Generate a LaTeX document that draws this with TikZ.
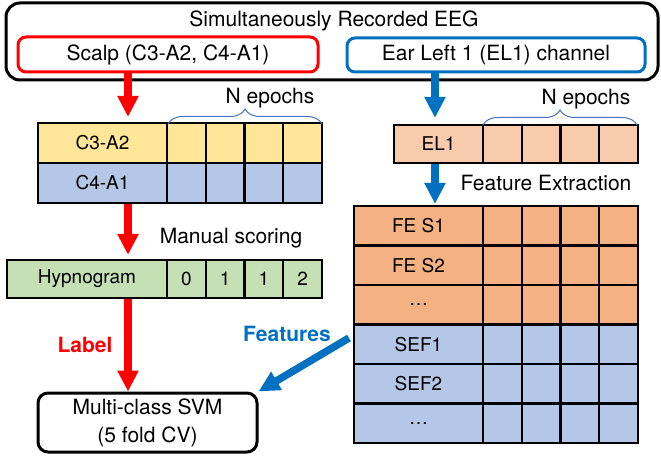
\documentclass[tikz,border=0pt]{standalone}
\usepackage{fontspec}
\setmainfont{TeX Gyre Heros}
\usetikzlibrary{arrows.meta, decorations.pathreplacing}

\definecolor{scalpRed}{HTML}{FF0000}
\definecolor{earBlue}{HTML}{0070C0}
\definecolor{braceBlue}{HTML}{4472C4}
\definecolor{c3Yellow}{HTML}{FFE699}
\definecolor{rowBlue}{HTML}{B4C7E7}
\definecolor{hypGreen}{HTML}{C5E0B4}
\definecolor{elPeach}{HTML}{F8CBAD}
\definecolor{feOrange}{HTML}{F4B183}

\begin{document}
\begin{tikzpicture}[x=1pt, y=-1pt,
  every node/.style={font=\fontsize{21}{28}\selectfont},
  roundBox/.style={draw, line width=3pt, inner sep=0pt},
  labelCell/.style={draw, line width=2.2pt, inner sep=0pt, font=\fontsize{19}{23}\selectfont},
  epochCell/.style={draw, line width=2.2pt, inner sep=0pt, minimum width=38.75pt, font=\fontsize{19}{23}\selectfont},
  redArrow/.style={draw=scalpRed, line width=7.5pt, -{Triangle[width=20pt,length=21pt]}},
  blueArrow/.style={draw=earBlue, line width=7.5pt, -{Triangle[width=20pt,length=21pt]}},
  epochBrace/.style={draw=braceBlue, line width=1pt, decorate, decoration={brace, amplitude=15pt}}]

  \useasboundingbox (0,0) rectangle (661,457);

  % recorded eeg
  \node[roundBox, rounded corners=14pt, minimum width=652pt, minimum height=77pt] (eegBox) at (332,41.5) {};
  \node[anchor=base] (eegTitle) at (334,27) {Simultaneously Recorded EEG};
  \node[roundBox, draw=scalpRed, rounded corners=8pt, minimum width=300pt, minimum height=35pt] (scalpBox) at (168,54.5) {Scalp (C3-A2, C4-A1)};
  \node[roundBox, draw=earBlue, rounded corners=8pt, minimum width=298pt, minimum height=34pt] (earBox) at (496,55) {Ear Left 1 (EL1) channel};

  % scalp channels
  \node[labelCell, fill=c3Yellow, minimum width=129pt, minimum height=40pt] (c3Label) at (102.5,143) {C3-A2};
  \node[labelCell, fill=rowBlue, minimum width=129pt, minimum height=40pt] (c4Label) at (102.5,183) {C4-A1};
  \foreach \i in {1,...,4} {
    \node[epochCell, fill=c3Yellow, minimum height=40pt] (c3Cell\i) at (147.625+38.75*\i,143) {};
    \node[epochCell, fill=rowBlue, minimum height=40pt] (c4Cell\i) at (147.625+38.75*\i,183) {};
  }
  \draw[epochBrace] (168,124) -- (322,124);
  \node[anchor=base] (scalpEpochs) at (270,104) {N epochs};

  % hypnogram
  \node[labelCell, fill=hypGreen, minimum width=160pt, minimum height=38pt] (hypLabel) at (87,279) {Hypnogram};
  \foreach \v [count=\i] in {0,1,1,2}
    \node[epochCell, fill=hypGreen, minimum height=38pt] (hypCell\i) at (147.625+38.75*\i,279) {\v};
  \node[anchor=base] (manualTxt) at (231,243) {Manual scoring};

  % ear channel
  \node[labelCell, fill=elPeach, minimum width=89pt, minimum height=38pt] (el1Label) at (438.5,144) {EL1};
  \foreach \i in {1,...,4}
    \node[epochCell, fill=elPeach, minimum height=38pt] (el1Cell\i) at (463.625+38.75*\i,144) {};
  \draw[epochBrace] (483,125) -- (637,125);
  \node[anchor=base] (earEpochs) at (586,105) {N epochs};
  \node[anchor=base] (featExtTxt) at (546,191) {Feature Extraction};

  % feature table
  \foreach \name/\txt/\col [count=\r] in {feS1/FE S1/feOrange, feS2/FE S2/feOrange, feDots/\dots/feOrange,
                                           sef1/SEF1/rowBlue, sef2/SEF2/rowBlue, sefDots/\dots/rowBlue} {
    \node[labelCell, fill=\col, minimum width=129pt, minimum height=39.5pt] (\name Label) at (418.5,186.25+39.5*\r) {\txt};
    \foreach \i in {1,...,4}
      \node[epochCell, fill=\col, minimum height=39.5pt] (\name Cell\i) at (463.625+38.75*\i,186.25+39.5*\r) {};
  }

  % classifier
  \node[roundBox, rounded corners=10pt, minimum width=219pt, minimum height=59pt, align=center] (svmBox) at (147.5,422.5) {Multi-class SVM\\(5 fold CV)};

  % arrows
  \coordinate (redCol) at (128,0);
  \coordinate (blueCol) at (435,0);
  \coordinate (featStart) at (349,338);
  \draw[redArrow, shorten >=5pt] (scalpBox.south -| redCol) -- (c3Label.north -| redCol);
  \draw[redArrow, shorten >=4pt] (c4Label.south -| redCol) -- (hypLabel.north -| redCol);
  \draw[redArrow] (hypLabel.south -| redCol) -- (svmBox.north -| redCol);
  \draw[blueArrow, shorten >=6pt] (earBox.south -| blueCol) -- (el1Label.north -| blueCol);
  \draw[blueArrow, shorten >=1pt] (el1Label.south -| blueCol) -- (feS1Label.north -| blueCol);
  \draw[blueArrow] (featStart) -- (svmBox.north east);
  \node[anchor=base, text=scalpRed, font=\fontsize{21}{25}\selectfont\bfseries] (labelTxt) at (85,352) {Label};
  \node[anchor=base, text=earBlue, font=\fontsize{21}{25}\selectfont\bfseries] (featTxt) at (287,341) {Features};
\end{tikzpicture}
\end{document}
